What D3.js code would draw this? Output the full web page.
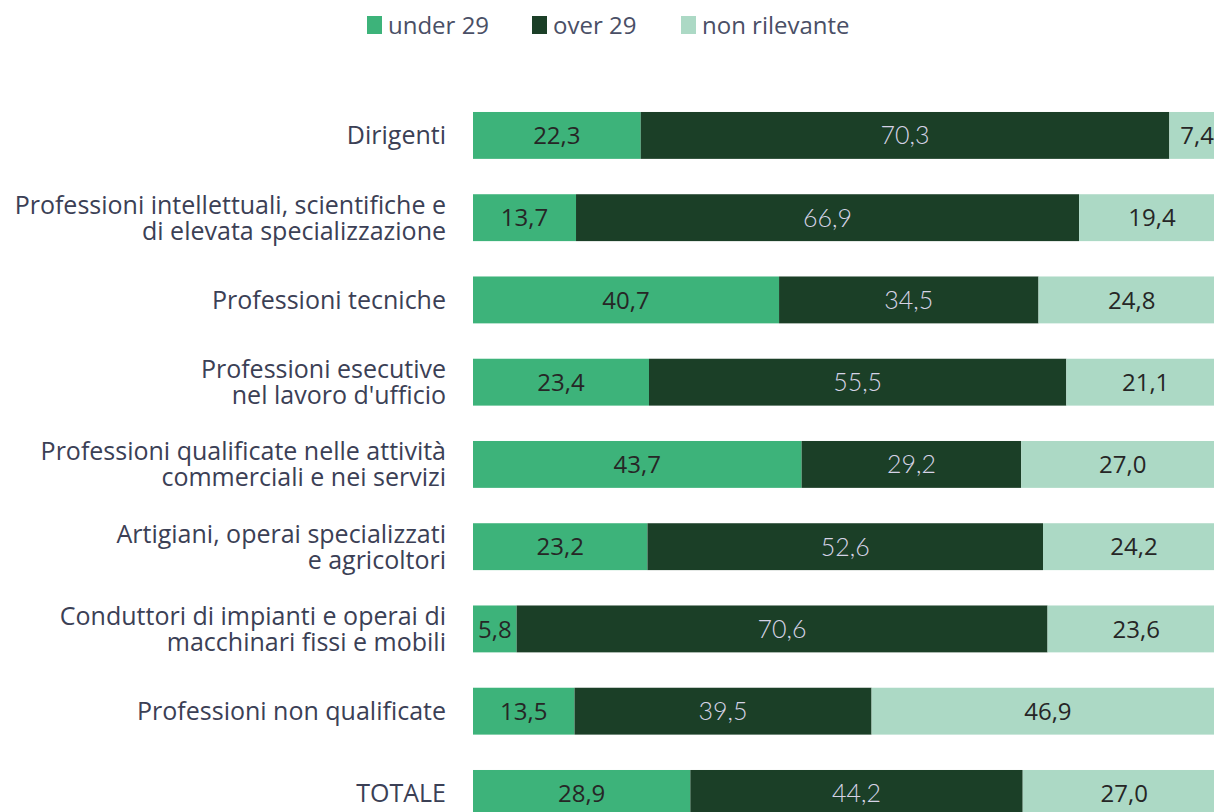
<!DOCTYPE html>
<html>
<head>
<meta charset="utf-8">
<script src="https://cdn.jsdelivr.net/npm/d3@7"></script>
<style>
  body { margin: 0; background: #fff; }
  svg { display: block; font-family: "Open Sans", Lato, sans-serif; }
</style>
</head>
<body>
<div id="chart"></div>
<script>
// data
var categories = [
    "Dirigenti",
    "Professioni intellettuali, scientifiche e\ndi elevata specializzazione",
    "Professioni tecniche",
    "Professioni esecutive\nnel lavoro d'ufficio",
    "Professioni qualificate nelle attività\ncommerciali e nei servizi",
    "Artigiani, operai specializzati\ne agricoltori",
    "Conduttori di impianti e operai di\nmacchinari fissi e mobili",
    "Professioni non qualificate",
    "TOTALE"
];
var under29 = [22.3, 13.7, 40.7, 23.4, 43.7, 23.2, 5.8, 13.5, 28.9];
var over29 = [70.3, 66.9, 34.5, 55.5, 29.2, 52.6, 70.6, 39.5, 44.2];
var nonRilevante = [7.4, 19.4, 24.8, 21.1, 27.0, 24.2, 23.6, 46.9, 27.0];
var seriesNames = ["under 29", "over 29", "non rilevante"];

// layout
var width = 1214,
    height = 812;

var keys = ["under", "over", "nonril"];
var colors = { under: "#3db37a", over: "#1b3f27", nonril: "#acd9c5" };
var labelColors = { under: "#262626", over: "#d6d3e6", nonril: "#262626" };
var labelFonts = { under: "'Open Sans'", over: "Lato", nonril: "'Open Sans'" };
var labelWeights = { under: 400, over: 300, nonril: 400 };

var rows = categories.map(function(c, i) {
    return { cat: c, under: under29[i], over: over29[i], nonril: nonRilevante[i] };
});

var series = d3.stack().keys(keys)(rows);

var x = d3.scaleLinear()
    .domain([0, 100])
    .range([473, 1225]);

var y = d3.scaleBand()
    .domain(categories)
    .range([94.3, 94.3 + 9 * 82.25])
    .paddingInner(0.43)
    .paddingOuter(0.215);

var locale = d3.formatLocale({ decimal: ",", thousands: ".", grouping: [3], currency: ["", "€"] });
var fmt = locale.format(".1f");

var svg = d3.select("#chart")
    .append("svg")
    .attr("width", width)
    .attr("height", height);

// bars
var groups = svg.selectAll(".serie")
    .data(series)
    .enter()
    .append("g")
    .attr("class", "serie")
    .attr("fill", function(d) { return colors[d.key]; });

groups.selectAll("rect")
    .data(function(d) { return d; })
    .enter()
    .append("rect")
    .attr("x", function(d) { return x(d[0]); })
    .attr("y", function(d) { return y(d.data.cat); })
    .attr("width", function(d) { return x(d[1]) - x(d[0]); })
    .attr("height", y.bandwidth());

// value labels
groups.selectAll("text")
    .data(function(d) { return d.map(function(p) { p.key = d.key; return p; }); })
    .enter()
    .append("text")
    .attr("x", function(d) { return (x(d[0]) + x(d[1])) / 2; })
    .attr("y", function(d) { return y(d.data.cat) + y.bandwidth() / 2; })
    .attr("dy", "0.36em")
    .attr("text-anchor", "middle")
    .style("font-family", function(d) { return labelFonts[d.key] + ", sans-serif"; })
    .style("font-size", function(d) { return d.key === "over" ? "25px" : "24px"; })
    .style("font-weight", function(d) { return labelWeights[d.key]; })
    .style("fill", function(d) { return labelColors[d.key]; })
    .text(function(d) { return fmt(d[1] - d[0]); });

// category labels
var catLabels = svg.append("g")
    .attr("class", "y labels")
    .selectAll("text")
    .data(categories)
    .enter()
    .append("text")
    .attr("text-anchor", "end")
    .attr("x", 446)
    .attr("y", function(d) { return y(d) + y.bandwidth() / 2; })
    .style("font-size", "25px")
    .style("fill", "#3b4055");

catLabels.each(function(d) {
    var lines = d.split("\n");
    var t = d3.select(this);
    lines.forEach(function(line, i) {
        t.append("tspan")
            .attr("x", 446)
            .attr("dy", i === 0 ? (0.36 - (lines.length - 1) * 0.52) + "em" : "1.04em")
            .text(line);
    });
});

// legend
var legendX = [367, 532, 681];
var legend = svg.append("g")
    .attr("class", "legend")
    .selectAll("g")
    .data(keys)
    .enter()
    .append("g")
    .attr("transform", function(d, i) { return "translate(" + legendX[i] + ",16)"; });

legend.append("rect")
    .attr("width", 15)
    .attr("height", 18)
    .attr("fill", function(d) { return colors[d]; });

legend.append("text")
    .attr("x", 21)
    .attr("y", 9)
    .attr("dy", "0.36em")
    .style("font-size", "24px")
    .style("fill", "#4a4f66")
    .text(function(d, i) { return seriesNames[i]; });
</script>
</body>
</html>
